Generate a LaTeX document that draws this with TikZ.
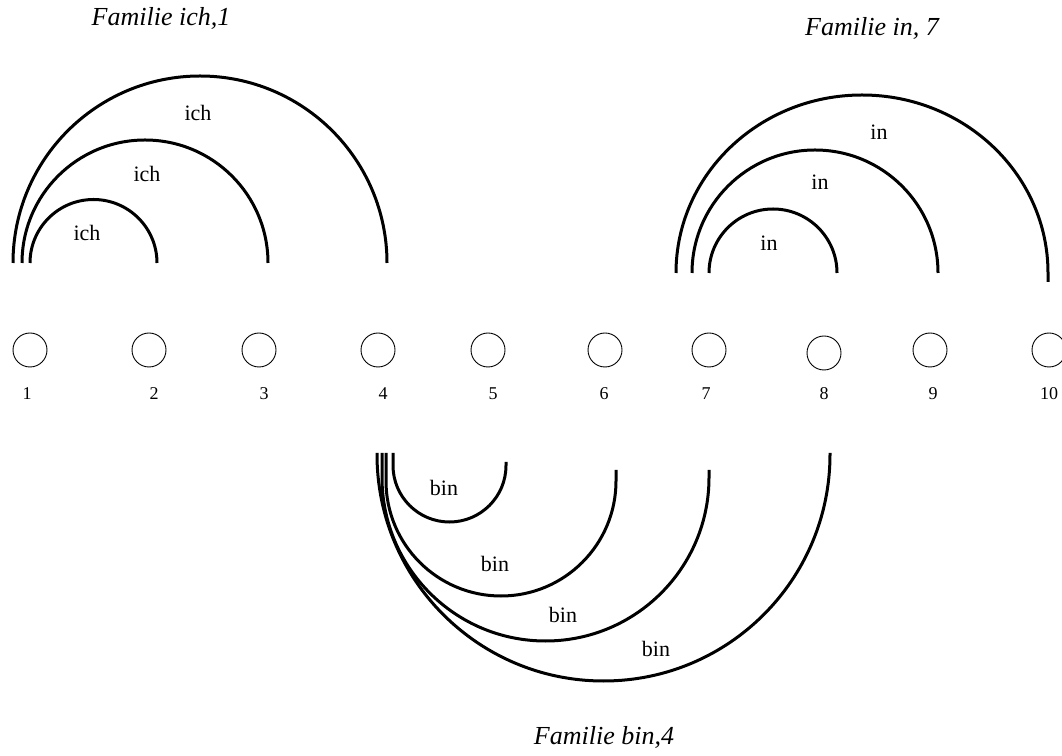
\documentclass[tikz,border=0pt]{standalone}
\usepackage{fontspec}
\setmainfont{Liberation Serif}
\usepackage{tikz}
\tikzset{
  vertex/.style={draw, circle, line width=0.9pt, minimum size=34pt, inner sep=0pt},
  num/.style={font=\fontsize{18}{20}\selectfont},
  word/.style={font=\fontsize{22}{24}\selectfont},
  family/.style={font=\fontsize{26}{28}\selectfont\itshape},
  bow/.style={line width=3pt}
}

\begin{document}
\begin{tikzpicture}[x=1pt, y=1pt]
        \useasboundingbox (0,0) rectangle (1062,755);

        % Positions
        \node[vertex] (p1) at (30,405) {};
        \node[vertex] (p2) at (149,405) {};
        \node[vertex] (p3) at (259,405) {};
        \node[vertex] (p4) at (378,405) {};
        \node[vertex] (p5) at (488,405) {};
        \node[vertex] (p6) at (605,405) {};
        \node[vertex] (p7) at (709,405) {};
        \node[vertex] (p8) at (824,402) {};
        \node[vertex] (p9) at (930,405) {};
        \node[vertex] (p10) at (1049,405) {};

        % Numbers
        \node[num] (n1) at (27,361) {1};
        \node[num] (n2) at (154,361) {2};
        \node[num] (n3) at (264,361) {3};
        \node[num] (n4) at (383,361) {4};
        \node[num] (n5) at (493,361) {5};
        \node[num] (n6) at (604,361) {6};
        \node[num] (n7) at (706,361) {7};
        \node[num] (n8) at (824,361) {8};
        \node[num] (n9) at (933,361) {9};
        \node[num] (n10) at (1049,361) {10};

        % Family ich
        \draw[bow] (30,492) arc (180:0:63.5);
        \draw[bow] (22,492) arc (180:0:123);
        \draw[bow] (13,492) arc (180:0:187);
        \node[word] (ich1) at (87,522) {ich};
        \node[word] (ich2) at (147,581) {ich};
        \node[word] (ich3) at (198,642) {ich};
        \node[family] (tich) at (161,737) {Familie ich,1};

        % Family in
        \draw[bow] (709,482) arc (180:0:64);
        \draw[bow] (692,482) arc (180:0:123);
        \draw[bow] (676,482) arc [start angle=180, end angle=0, x radius=186, y radius=178] -- (1048,473);
        \node[word] (in1) at (769,512) {in};
        \node[word] (in2) at (820,573) {in};
        \node[word] (in3) at (879,623) {in};
        \node[family] (tin) at (872,727) {Familie in, 7};

        % Family bin
        \draw[bow] (393,302) -- (393,289.5) arc (180:360:56.5) -- (506,293);
        \draw[bow] (386,302) -- (386,274) arc (180:360:115) -- (616,285);
        \draw[bow] (382,302) -- (382,277.5) arc (180:360:163.5) -- (709,285);
        \draw[bow] (377,302) -- (377,300.5) arc (180:360:226.5) -- (830,302);
        \node[word] (bin1) at (444,267) {bin};
        \node[word] (bin2) at (495,191) {bin};
        \node[word] (bin3) at (563,140) {bin};
        \node[word] (bin4) at (656,106) {bin};
        \node[family] (tbin) at (604,18) {Familie bin,4};
\end{tikzpicture}
\end{document}
